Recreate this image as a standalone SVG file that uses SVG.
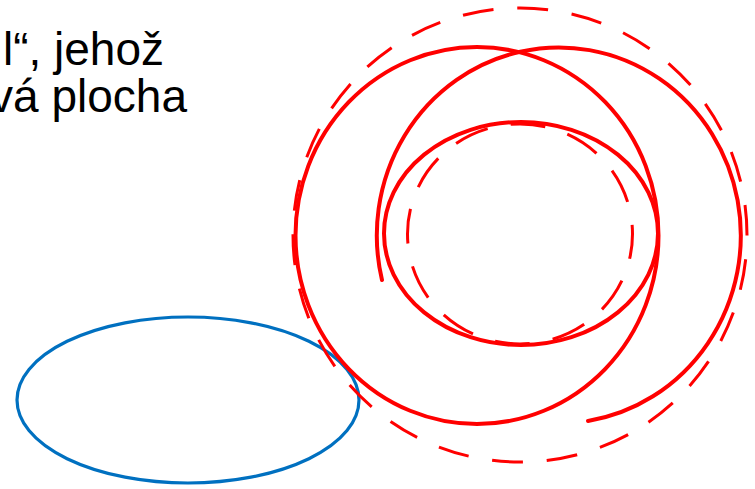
<svg xmlns="http://www.w3.org/2000/svg" width="755" height="489" viewBox="0 0 755 489">
<style>
.txt{font-family:"Liberation Sans",Arial,sans-serif;font-size:46px;fill:#000}
.red{fill:none;stroke:#FF0000;stroke-width:4;stroke-linecap:round}
.dash{fill:none;stroke:#FF0000;stroke-width:3}
.blue{fill:none;stroke:#0070C0;stroke-width:3.2}
</style>
<rect width="755" height="489" fill="#fff"/>
<g id="text">
<text class="txt" x="164" y="65" text-anchor="end">l“, jehož</text>
<text class="txt" x="187" y="112" text-anchor="end">vá plocha</text>
</g>
<g id="blue-ellipse">
<ellipse class="blue" cx="188" cy="400" rx="171" ry="83"/>
</g>
<g id="outer-dashed">
<circle class="dash" cx="520" cy="235" r="227" stroke-dasharray="31 23.85" stroke-dashoffset="30.5"/>
</g>
<g id="left-circle">
<ellipse class="red" cx="477" cy="235.5" rx="181.5" ry="188.5"/>
</g>
<g id="right-circle">
<path class="red" d="M382 280 A182 188 0 1 1 588 421"/>
</g>
<g id="inner-circle">
<ellipse class="red" cx="521" cy="233.5" rx="137" ry="111.5"/>
</g>
<g id="inner-dashed">
<ellipse class="dash" cx="520" cy="234" rx="112.5" ry="110" stroke-dasharray="35 23.25" stroke-dashoffset="10"/>
</g>
<g id="connectors"></g>
</svg>
